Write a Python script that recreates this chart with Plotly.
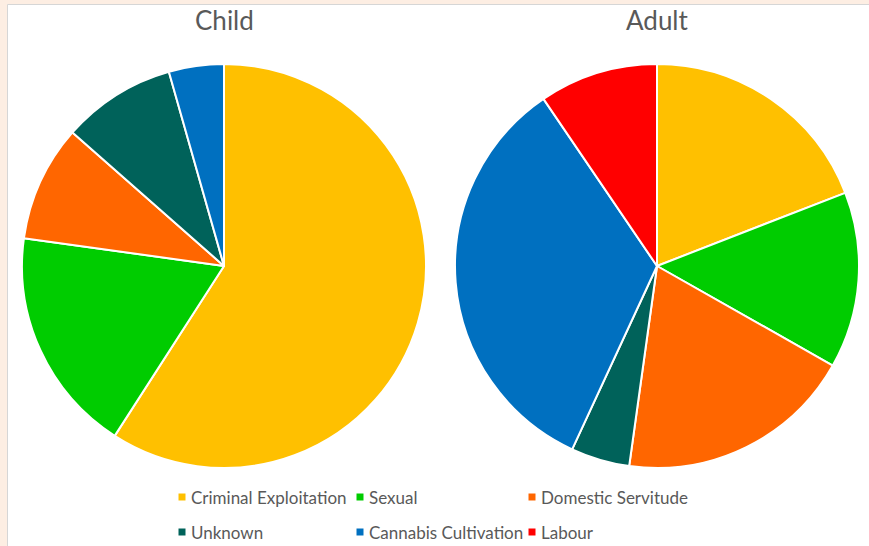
import plotly.graph_objects as go

W, H = 869, 546

categories = ["Criminal Exploitation", "Sexual", "Domestic Servitude",
              "Unknown", "Cannabis Cultivation", "Labour"]
child_values = [59.1, 18.1, 9.3, 9.1, 4.4, 0.0]
adult_values = [19.1, 14.1, 19.0, 4.7, 33.6, 9.5]
colors = ["#FFC000", "#00CC00", "#FF6600", "#00625A", "#0070C0", "#FF0000"]
titles = ["Child", "Adult"]

BG = "#FDEEE3"

# layout helpers (pixels)
def px(x):
    return x / W

def py(y):
    return 1 - y / H

fig = go.Figure()

pie_boxes = [(22, 426), (455, 859)]
cy, r = 266, 202
for name, vals, (x0, x1) in zip(titles, [child_values, adult_values], pie_boxes):
    fig.add_trace(go.Pie(
        labels=categories, values=vals, name=name,
        sort=False, direction="clockwise", rotation=0,
        marker=dict(colors=colors, line=dict(color="white", width=2)),
        textinfo="none", showlegend=False,
        domain=dict(x=[px(x0), px(x1)], y=[py(cy + r), py(cy - r)]),
    ))
    fig.add_annotation(x=px((x0 + x1) / 2), y=py(20), xref="paper", yref="paper",
                       text=name, showarrow=False, xanchor="center", yanchor="middle",
                       font=dict(size=26, color="#595959", family="Lato"))

# custom legend
col_x = [182, 360, 532]
row_y = [497, 532]
for i, (cat, col) in enumerate(zip(categories, colors)):
    cx = col_x[i % 3]
    ry = row_y[i // 3]
    fig.add_shape(type="rect", xref="paper", yref="paper",
                  x0=px(cx - 3.5), x1=px(cx + 3.5), y0=py(ry + 3.5), y1=py(ry - 3.5),
                  fillcolor=col, line=dict(width=0))
    fig.add_annotation(x=px(cx + 7), y=py(ry), xref="paper", yref="paper",
                       text=cat, showarrow=False, xanchor="left", yanchor="middle",
                       font=dict(size=17, color="#595959", family="Lato"))

# white chart area with thin border over peach background
fig.add_shape(type="rect", xref="paper", yref="paper", layer="below",
              x0=px(7.5), x1=px(W + 5), y0=py(H + 5), y1=py(4.5),
              fillcolor="white", line=dict(color="#D6D6D6", width=1))

fig.update_layout(
    width=W, height=H,
    margin=dict(l=0, r=0, t=0, b=0),
    paper_bgcolor=BG,
    plot_bgcolor="white",
    showlegend=False,
)

fig.write_html(
    "out.html",
    config={"displayModeBar": False},
    post_script="document.body.style.margin='0';document.body.style.padding='0';"
                "document.body.style.overflow='hidden';"
                "document.body.style.background='" + BG + "';",
)
